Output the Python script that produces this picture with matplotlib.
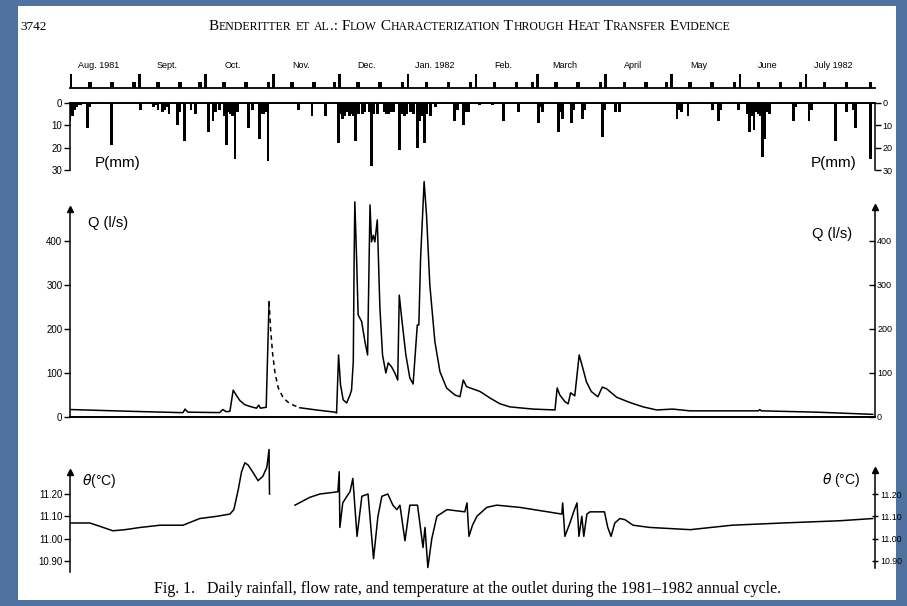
import matplotlib
matplotlib.use('Agg')
import matplotlib.pyplot as plt
from matplotlib.patches import Rectangle
from matplotlib.offsetbox import TextArea, HPacker, AnnotationBbox
import numpy as np

W, H = 907, 606

# calendar: days counted from 1 Aug 1981
months = ['Aug. 1981', 'Sept.', 'Oct.', 'Nov.', 'Dec.', 'Jan. 1982', 'Feb.',
          'March', 'April', 'May', 'June', 'July 1982']
month_start = [0, 31, 61, 92, 122, 153, 184, 212, 243, 273, 304, 334]

# daily rainfall (mm)
rain_day = [0, 1, 2, 3, 4, 5, 8, 9, 19, 32,
            38, 39, 40, 42, 43, 44, 45, 49, 50, 52,
            55, 57, 63, 65, 66, 68, 70, 71, 72, 73,
            74, 75, 76, 81, 83, 86, 87, 88, 89, 90,
            104, 110, 116, 122, 123, 124, 125, 126, 127, 128,
            129, 130, 131, 133, 134, 136, 137, 138, 140, 143,
            144, 145, 146, 147, 150, 151, 152, 153, 155, 156,
            158, 159, 160, 161, 162, 164, 166, 175, 176, 179,
            180, 181, 186, 192, 197, 204, 213, 214, 215, 222,
            223, 224, 228, 229, 233, 234, 242, 243, 248, 250,
            276, 277, 278, 281, 292, 295, 296, 304, 308, 309,
            310, 311, 312, 313, 314, 315, 316, 317, 318, 329,
            330, 336, 337, 348, 353, 356, 357, 364]
rain_mm = [8, 6, 3, 2, 1, 1, 11, 2, 19, 3,
           2, 1, 3, 4, 3, 2, 5, 10, 4, 17,
           3, 5, 13, 8, 4, 3, 6, 19, 4, 5,
           6, 25, 4, 11, 3, 16, 5, 5, 4, 26,
           3, 6, 6, 18, 5, 7, 6, 4, 6, 5,
           6, 17, 5, 5, 4, 4, 28, 5, 5, 4,
           5, 5, 4, 4, 21, 5, 6, 5, 4, 5,
           20, 8, 6, 18, 5, 6, 2, 8, 3, 10,
           4, 4, 1, 1, 8, 4, 9, 2, 4, 13,
           4, 7, 9, 3, 7, 3, 15, 3, 4, 4,
           7, 3, 4, 6, 3, 8, 3, 3, 5, 13,
           6, 12, 4, 5, 6, 24, 16, 4, 5, 8,
           2, 8, 3, 17, 4, 3, 11, 25]

# flow rate at the outlet (l/s)
q_day = [0, 27, 50, 51.4, 52.3, 53.6, 68, 69.5, 71, 72.7, 74.2, 75.8, 77.3, 79.5,
         81.8, 84.8, 85.8, 86.6, 87.8, 89.2, 90.5, 91.2, 92.1, 93.2, 94.7, 97, 100,
         104.5, 112, 120.5, 121.2, 122.1, 123, 124.2, 125.8, 127.3, 128, 128.8, 129.2,
         129.5, 130.3, 131, 132.6, 134.1, 135.3, 136.4, 137.1, 137.9, 138.6, 139.7,
         140.9, 142.1, 143.6, 144.7, 146.2, 147.7, 149, 149.7, 150.8, 152.7, 154.5,
         156, 157.9, 158.6, 159.4, 161, 162.1, 163.6, 165.9, 168.2, 171.2, 175, 177.3,
         178.8, 180.3, 186.4, 191, 195.5, 200, 210.5, 220.5, 221.5, 222.7, 225, 226.5,
         227.6, 229.5, 231.5, 233, 234.8, 237, 240, 242, 244, 248.5, 254.5, 260.6,
         266.7, 274, 281.8, 294, 313, 313.6, 314.3, 339.4, 365]
q_val = [17, 13, 10, 10, 18, 11, 10, 17, 12, 13, 61, 48, 37, 28,
         24, 20, 27, 20, 21, 22, 262, 200, 145, 100, 66, 43, 30,
         21, 16, 11, 9, 141, 73, 39, 32, 50, 61, 126, 368,
         489, 361, 232, 217, 171, 141, 482, 398, 413, 398, 448,
         248, 141, 100, 123, 114, 100, 84, 277, 225, 141, 89,
         75, 209, 209, 361, 535, 459, 300, 171, 103, 66, 50, 46,
         84, 69, 58, 43, 30, 23, 18, 16, 66, 50, 35, 30,
         55, 48, 141, 114, 80, 58, 46, 68, 64, 45, 33, 23,
         16, 18, 14, 14, 14, 17, 14, 11, 6]
q_gap = (90.5, 104.5)  # estimated recession, drawn dashed

# water temperature (deg C), two recorded pieces
t1_day = [0, 9, 13.6, 19.5, 25, 32, 41, 51.4, 59, 66.8, 72.7, 74.5, 76.5, 78, 79.5,
          81, 83, 85.5, 87.7, 89.5, 90.5, 90.7]
t1_val = [11.07, 11.07, 11.055, 11.035, 11.04, 11.05, 11.06, 11.06, 11.09, 11.10,
          11.11, 11.13, 11.22, 11.30, 11.34, 11.33, 11.30, 11.26, 11.28, 11.32,
          11.40, 11.20]
t2_day = [102.3, 109, 113.6, 121.8, 122.4, 122.7, 124, 125.9, 127.3, 128.6, 130.5,
          132.7, 135.5, 138, 140, 141.8, 144.5, 146.8, 148.6, 150, 152.3, 154.5, 158,
          160.5, 161.4, 162.7, 164.5, 166.8, 171.4, 179.5, 180.5, 181.4, 183, 185,
          189.5, 194, 204.5, 223.6, 224, 225, 227.3, 229, 230.5, 231.4, 232.7, 233.6,
          235, 236.4, 243, 244.5, 246, 247.7, 250, 252.3, 256, 263.6, 282, 301, 324,
          350, 365]
t2_val = [11.15, 11.185, 11.20, 11.21, 11.30, 11.05, 11.16, 11.19, 11.21, 11.27, 11.01,
          11.19, 11.20, 10.91, 11.10, 11.19, 11.20, 11.15, 11.13, 11.15, 10.99, 11.15,
          11.15, 10.96, 11.05, 10.87, 11.00, 11.10, 11.13, 11.12, 11.16, 11.01, 11.06,
          11.10, 11.14, 11.15, 11.14, 11.11, 11.16, 11.01, 11.07, 11.12, 11.16, 11.01,
          11.10, 11.01, 11.11, 11.12, 11.12, 11.05, 11.01, 11.07, 11.09, 11.085, 11.06,
          11.05, 11.04, 11.06, 11.07, 11.08, 11.09]

p_ticks = [0, 10, 20, 30]
q_ticks = [0, 100, 200, 300, 400]
t_ticks = [10.90, 11.00, 11.10, 11.20]

title = 'Benderitter et al.: Flow Characterization Through Heat Transfer Evidence'
caption = ('Fig. 1.   Daily rainfall, flow rate, and temperature at the outlet '
           'during the 1981\u20131982 annual cycle.')

SANS = 'Liberation Sans'
SERIF = 'Liberation Serif'
XMAX = 366
X0, X1 = 70, 875


def px2day(x):
    return (x - X0) / (X1 - X0) * XMAX


def px_axes(fig, top, bottom):
    ax = fig.add_axes([X0 / W, 1 - bottom / H, (X1 - X0) / W, (bottom - top) / H])
    ax.set_facecolor('none')
    ax.set_xlim(0, XMAX)
    ax.set_xticks([])
    for s in ax.spines.values():
        s.set_visible(False)
        s.set_linewidth(1.1)
    return ax


def small_caps(text, big, small):
    runs = []
    for ch in text:
        size = small if ch.islower() else big
        if runs and runs[-1][1] == size:
            runs[-1][0] += ch.upper()
        else:
            runs.append([ch.upper(), size])
    boxes = [TextArea(t, textprops=dict(fontsize=s, family=SERIF)) for t, s in runs]
    return HPacker(children=boxes, align='baseline', pad=0, sep=0)


def y_side(ax, side, ticks, labels, lo, hi, direction, arrow=None, size=7):
    sp = ax.spines[side]
    sp.set_visible(True)
    sp.set_bounds(lo, hi)
    ax.yaxis.set_ticks_position(side)
    ax.set_yticks(ticks, labels)
    ax.tick_params(axis='y', direction=direction, length=4, width=1.0, pad=1.5,
                   labelsize=size)
    for lab in ax.get_yticklabels():
        lab.set_family(SANS)
    if arrow is not None:
        x = 0 if side == 'left' else XMAX
        ax.plot([x], [arrow], marker='^', ms=5, color='k', clip_on=False)


def right_twin(ax):
    axr = ax.twinx()
    axr.set_ylim(ax.get_ylim())
    for s in axr.spines.values():
        s.set_visible(False)
        s.set_linewidth(1.1)
    return axr


fig = plt.figure(figsize=(W / 100, H / 100), dpi=100)
fig.patch.set_facecolor('#4f72a0')
fig.add_artist(Rectangle((18 / W, 6 / H), 878 / W, 594 / H, transform=fig.transFigure,
                         facecolor='white', edgecolor='none', zorder=-1))

# header
fig.text(20 / W, 1 - 27 / H, '3742', family=SERIF, fontsize=9.5, va='center')
fig.add_artist(AnnotationBbox(small_caps(title, 11, 8.5), (470 / W, 1 - 27 / H),
                              xycoords='figure fraction', frameon=False,
                              box_alignment=(0.5, 0.5)))

# calendar strip
ax_c = px_axes(fig, 72, 88)
ax_c.set_ylim(0, 1)
ax_c.set_yticks([])
ax_c.spines['bottom'].set_visible(True)
ax_c.spines['bottom'].set_linewidth(1.3)
tall = np.array(month_start)
small = np.concatenate([tall - 1.8, tall + 9, tall + 19, [364]])
ax_c.bar(tall, 0.875, width=1.1, color='k', align='edge')
ax_c.bar(small[small > 0], 0.375, width=1.6, color='k', align='center')
for name, d in zip(months, month_start):
    ax_c.text(d + 13, 1.4, name, ha='center', va='center', fontsize=6.5, family=SANS)

# rainfall
ax_p = px_axes(fig, 103, 170)
ax_p.set_ylim(30, 0)
ax_p.bar(rain_day, rain_mm, width=1.3, color='k', align='center')
ax_p.spines['top'].set_visible(True)
ax_p.spines['top'].set_linewidth(1.4)
p_labels = [str(v) for v in p_ticks]
y_side(ax_p, 'left', p_ticks, p_labels, 0, 30, 'out')
y_side(right_twin(ax_p), 'right', p_ticks, p_labels, 0, 30, 'out', size=6.5)
ax_p.text(px2day(95), 28.5, 'P(mm)', fontsize=11, family=SANS, va='baseline')
ax_p.text(px2day(856), 28.5, 'P(mm)', fontsize=11, family=SANS, va='baseline',
          ha='right')

# flow rate
ax_q = px_axes(fig, 179.4, 417)
ax_q.set_ylim(0, 540)
qd = np.array(q_day)
qv = np.array(q_val)
m1 = qd <= q_gap[0]
m2 = (qd >= q_gap[0]) & (qd <= q_gap[1])
m3 = qd >= q_gap[1]
ax_q.plot(qd[m1], qv[m1], color='k', lw=1.1)
ax_q.plot(qd[m2], qv[m2], color='k', lw=1.1, ls=(0, (3, 2.5)))
ax_q.plot(qd[m3], qv[m3], color='k', lw=1.1)
ax_q.spines['bottom'].set_visible(True)
ax_q.spines['bottom'].set_linewidth(1.4)
q_labels = [str(v) for v in q_ticks]
y_side(ax_q, 'left', q_ticks, q_labels, 0, 470, 'out', arrow=472)
y_side(right_twin(ax_q), 'right', q_ticks, q_labels, 0, 475, 'in', arrow=478,
       size=6.5)
ax_q.text(px2day(88), 440, 'Q (l/s)', fontsize=10.5, family=SANS, va='center')
ax_q.text(px2day(852), 415, 'Q (l/s)', fontsize=10.5, family=SANS, va='center',
          ha='right')

# temperature
ax_t = px_axes(fig, 445, 572)
ax_t.set_ylim(10.85, 11.42)
ax_t.plot(t1_day, t1_val, color='k', lw=1.1)
ax_t.plot(t2_day, t2_val, color='k', lw=1.1)
t_labels = [f'{v:.2f}' for v in t_ticks]
y_side(ax_t, 'left', t_ticks, t_labels, 10.85, 11.28, 'out', arrow=11.30, size=7)
y_side(right_twin(ax_t), 'right', t_ticks, t_labels, 10.87, 11.29, 'inout',
       arrow=11.31, size=6.3)
ax_t.text(px2day(82), 11.26, r'$\theta$(°C)', fontsize=10, family=SANS,
          va='center')
ax_t.text(px2day(860), 11.265, r'$\theta$ (°C)', fontsize=10, family=SANS,
          va='center', ha='right')

fig.text(467 / W, 1 - 589 / H, caption, family=SERIF, fontsize=11.5, ha='center',
         va='center')

plt.savefig('out.png', dpi=100, facecolor=fig.get_facecolor())
